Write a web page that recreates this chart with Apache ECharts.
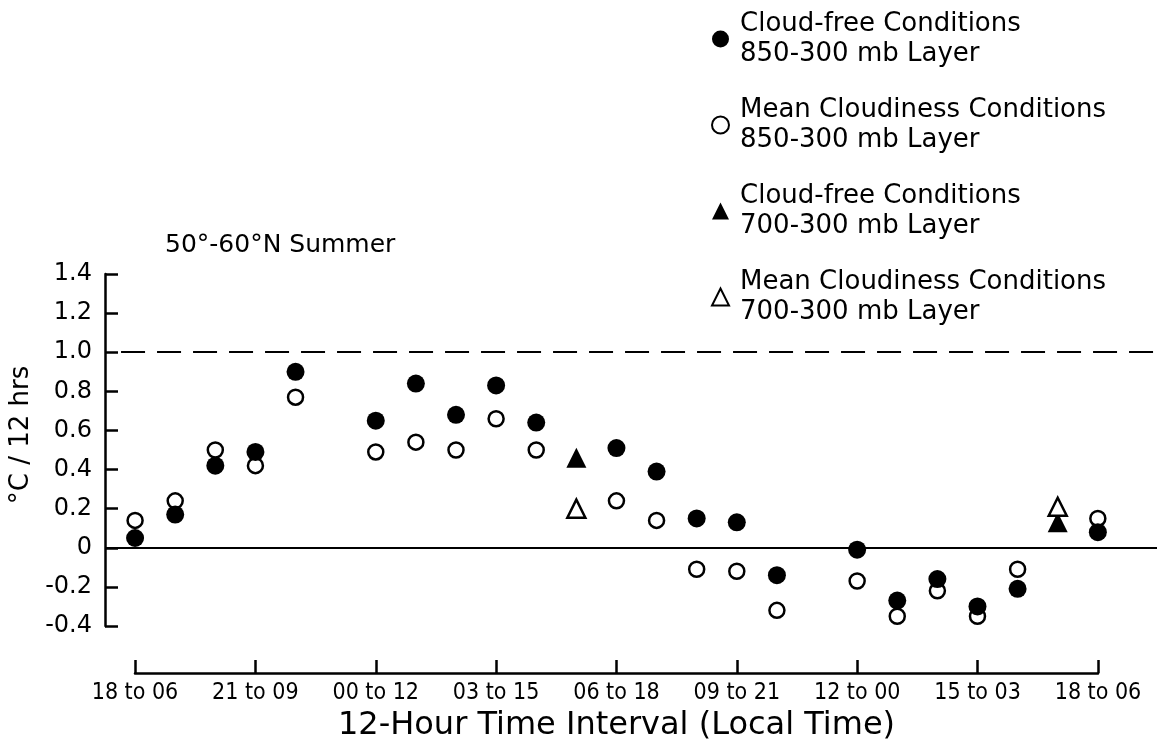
<!DOCTYPE html>
<html>
<head>
<meta charset="utf-8">
<script src="https://cdn.jsdelivr.net/npm/echarts@6/dist/echarts.min.js"></script>
<style>
  html, body { margin: 0; padding: 0; background: #fff; }
  #chart { width: 1157px; height: 750px; }
</style>
</head>
<body>
<div id="chart"></div>
<script>
// hour index along the 24-hour cycle (one step = 1 hour, 0 = "18 to 06")
const hours = [0, 1, 2, 3, 4, 5, 6, 7, 8, 9, 10, 11, 12, 13, 14, 15, 16, 17, 18, 19, 20, 21, 22, 23, 24]

// 850-300 mb layer (null = no point plotted)
const cloudFree850 = [0.05, 0.17, 0.42, 0.49, 0.90, null, 0.65, 0.84, 0.68, 0.83, 0.64, null, 0.51, 0.39, 0.15, 0.13, -0.14, null, -0.01, -0.27, -0.16, -0.30, -0.21, null, 0.08]
const meanCloud850 = [0.14, 0.24, 0.50, 0.42, 0.77, null, 0.49, 0.54, 0.50, 0.66, 0.50, null, 0.24, 0.14, -0.11, -0.12, -0.32, null, -0.17, -0.35, -0.22, -0.35, -0.11, null, 0.15]

// 700-300 mb layer
const cloudFree700 = [null, null, null, null, null, null, null, null, null, null, null, 0.46, null, null, null, null, null, null, null, null, null, null, null, 0.13, null]
const meanCloud700 = [null, null, null, null, null, null, null, null, null, null, null, 0.20, null, null, null, null, null, null, null, null, null, null, null, 0.21, null]

// tick labels every 3 hours
const intervalLabels = ['18 to 06', '21 to 09', '00 to 12', '03 to 15', '06 to 18', '09 to 21', '12 to 00', '15 to 03', '18 to 06']
const yTicks = { min: -0.4, max: 1.4, step: 0.2 }

const names = [
  'Cloud-free Conditions\n850-300 mb Layer',
  'Mean Cloudiness Conditions\n850-300 mb Layer',
  'Cloud-free Conditions\n700-300 mb Layer',
  'Mean Cloudiness Conditions\n700-300 mb Layer'
]

const FONT = 'DejaVu Sans'

function toPoints(values) {
  return hours.map((h, i) => [h, values[i]]).filter(d => d[1] !== null)
}

const chart = echarts.init(document.getElementById('chart'))

const option = {
  backgroundColor: '#fff',
  animation: false,
  textStyle: { fontFamily: FONT, color: '#000' },
  title: {
    text: '50°-60°N Summer',
    left: 160,
    top: 228,
    textStyle: { fontFamily: FONT, fontSize: 25, fontWeight: 'normal', color: '#000' }
  },
  legend: {
    orient: 'vertical',
    left: 706,
    top: -11,
    itemWidth: 17,
    itemHeight: 17,
    itemGap: -4,
    data: names,
    textStyle: {
      fontFamily: FONT,
      fontSize: 26,
      color: '#000',
      lineHeight: 30,
      padding: [30, 0, 0, 6]
    }
  },
  grid: [
    // data grid: y axis at x=105, zero/dashed reference lines reach the right edge
    { left: 105, right: 0, top: 274, bottom: 124 },
    // grid carrying the bracketed time axis (18 to 06 ... 18 to 06)
    { left: 135, right: 59, top: 274, bottom: 124 }
  ],
  xAxis: [
    {
      gridIndex: 0,
      type: 'value',
      min: -0.75,
      max: 25.475,
      show: false
    },
    {
      gridIndex: 1,
      type: 'value',
      min: 0,
      max: 24,
      interval: 3,
      offset: 47,
      name: '12-Hour Time Interval (Local Time)',
      nameLocation: 'middle',
      nameGap: 37,
      nameTextStyle: { fontFamily: FONT, fontSize: 32, color: '#000' },
      axisLine: { show: true, onZero: false, lineStyle: { color: '#000', width: 2.5 } },
      axisTick: { show: true, inside: true, length: 13, lineStyle: { color: '#000', width: 2.5 } },
      axisLabel: {
        margin: 9,
        fontFamily: 'Liberation Sans Narrow, DejaVu Sans Condensed, sans-serif',
        fontSize: 23,
        color: '#000',
        formatter: v => intervalLabels[Math.round(v / 3)]
      },
      splitLine: { show: false }
    }
  ],
  yAxis: [
    {
      gridIndex: 0,
      type: 'value',
      min: yTicks.min,
      max: yTicks.max,
      interval: yTicks.step,
      name: '°C / 12 hrs',
      nameLocation: 'middle',
      nameRotate: 90,
      nameGap: 68,
      nameTextStyle: { fontFamily: FONT, fontSize: 26, color: '#000', padding: [0, 0, 0, 30] },
      axisLine: { show: true, onZero: false, lineStyle: { color: '#000', width: 2.5 } },
      axisTick: { show: true, inside: true, length: 13, lineStyle: { color: '#000', width: 2.5 } },
      axisLabel: {
        margin: 13,
        fontFamily: FONT,
        fontSize: 24,
        color: '#000',
        formatter: v => (Math.abs(v) < 1e-9 ? '0' : v.toFixed(1))
      },
      splitLine: { show: false }
    },
    {
      gridIndex: 1,
      type: 'value',
      min: yTicks.min,
      max: yTicks.max,
      show: false
    }
  ],
  series: [
    {
      name: names[1],
      type: 'scatter',
      xAxisIndex: 0,
      yAxisIndex: 0,
      symbol: 'circle',
      symbolSize: 15,
      itemStyle: { color: '#fff', borderColor: '#000', borderWidth: 2.5, opacity: 1 },
      data: toPoints(meanCloud850),
      z: 2
    },
    {
      name: names[0],
      type: 'scatter',
      xAxisIndex: 0,
      yAxisIndex: 0,
      symbol: 'circle',
      symbolSize: 18,
      itemStyle: { color: '#000', opacity: 1 },
      data: toPoints(cloudFree850),
      z: 3,
      markLine: {
        silent: true,
        symbol: 'none',
        label: { show: false },
        data: [
          [{ coord: [-0.75, 0] }, { coord: [25.475, 0] }],
          [{ coord: [-0.35, 1.0], lineStyle: { type: [24, 12] } }, { coord: [25.475, 1.0] }]
        ],
        lineStyle: { color: '#000', width: 2, type: 'solid', opacity: 1 }
      }
    },
    {
      name: names[2],
      type: 'scatter',
      xAxisIndex: 0,
      yAxisIndex: 0,
      symbol: 'triangle',
      symbolSize: 20,
      itemStyle: { color: '#000', opacity: 1 },
      data: toPoints(cloudFree700),
      z: 4
    },
    {
      name: names[3],
      type: 'scatter',
      xAxisIndex: 0,
      yAxisIndex: 0,
      symbol: 'triangle',
      symbolSize: 18,
      itemStyle: { color: '#fff', borderColor: '#000', borderWidth: 2.5, opacity: 1 },
      data: toPoints(meanCloud700),
      z: 5
    }
  ]
}

chart.setOption(option)
window.addEventListener('resize', () => chart.resize())
</script>
</body>
</html>
